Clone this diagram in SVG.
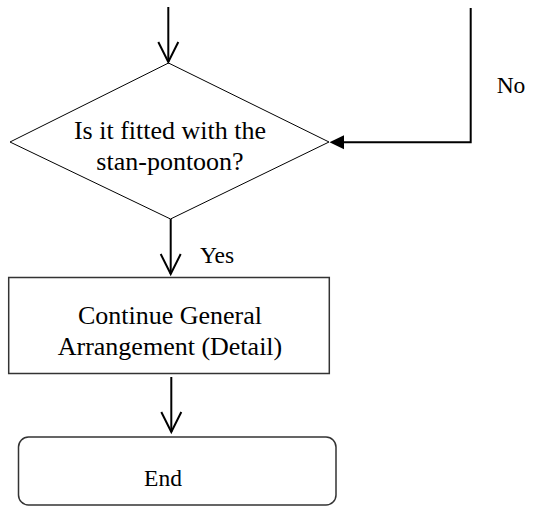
<svg xmlns="http://www.w3.org/2000/svg" width="540" height="506" viewBox="0 0 540 506">
<defs>
<style>
text{font-family:"Liberation Serif","Times New Roman",serif;font-size:26px;fill:#000;text-anchor:middle}
.lbl{font-size:23.5px}
.node{fill:#fff;stroke:#000;stroke-width:1}
.box{fill:#fff;stroke:#333;stroke-width:1.5}
.conn{fill:none;stroke:#000;stroke-width:2}
</style>
</defs>
<g id="decision">
<polygon class="node" points="168.5,63 329,142 170.5,219 10,142"/>
<text x="170" y="139">Is it fitted with the</text>
<text x="170" y="170">stan-pontoon?</text>
</g>
<g id="continue">
<rect class="box" x="8.7" y="277.5" width="320.6" height="96"/>
<text x="170" y="324">Continue General</text>
<text x="170" y="355">Arrangement (Detail)</text>
</g>
<g id="end">
<rect class="box" x="18.5" y="437" width="317.5" height="68" rx="10" ry="10"/>
<text class="lbl" x="163" y="486">End</text>
</g>
<g id="connectors">
<line class="conn" x1="168.3" y1="7" x2="168.3" y2="62"/>
<polyline class="conn" points="158.3,42 168.3,62 178.3,42"/>
<line class="conn" x1="170.7" y1="219" x2="170.7" y2="274"/>
<polyline class="conn" points="160.7,254 170.7,274 180.7,254"/>
<line class="conn" x1="171.3" y1="377" x2="171.3" y2="432"/>
<polyline class="conn" points="161.3,412 171.3,432 181.3,412"/>
<polyline class="conn" points="470.7,8 470.7,142.3 343,142.3"/>
<path d="M329.5,142.3 L344,135.3 L344,149.3 Z" fill="#000"/>
<text class="lbl" x="217" y="263">Yes</text>
<text class="lbl" x="511" y="93">No</text>
</g>
</svg>
